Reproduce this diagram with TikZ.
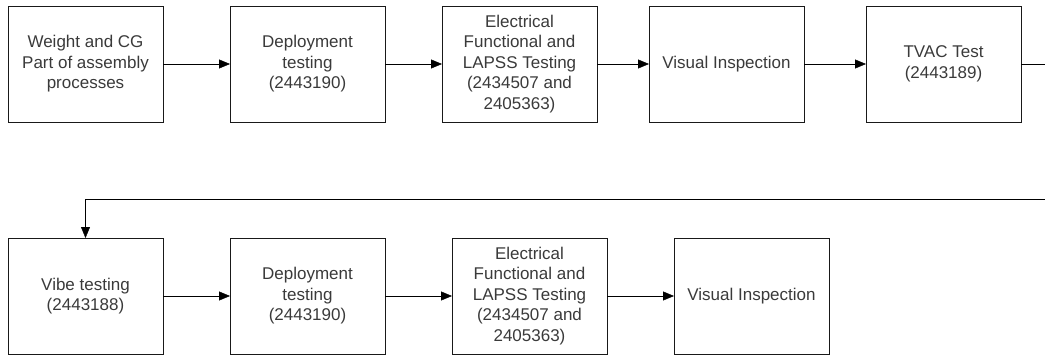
\documentclass[tikz,border=0pt]{standalone}
\usepackage{fontspec}
\setmainfont{Liberation Sans}
\usetikzlibrary{positioning,arrows.meta}
\definecolor{txtgray}{HTML}{3A3A3A}
\tikzset{
->,
>={Triangle[length=11pt,width=9pt]},
line width=1pt,
node distance=67pt,
task/.style={draw=black!90, rectangle, minimum width=155pt, minimum height=116pt,
  inner sep=2pt, outer sep=0pt, align=center, text=txtgray,
  font=\fontsize{17}{20.5}\selectfont},
}

\begin{document}
\begin{tikzpicture}[x=1pt,y=1pt]
        \useasboundingbox (0,0) rectangle (1045,354);
        \node[task] (t1) at (85.5,290) {Weight and CG\\Part of assembly\\processes};
        \node[task,right=of t1] (t2) {Deployment\\testing\\(2443190)};
        \node[task,right=57pt of t2] (t3) {Electrical\\Functional and\\LAPSS Testing\\(2434507 and\\2405363)};
        \node[task,right=52pt of t3] (t4) {Visual Inspection};
        \node[task,right=62pt of t4] (t5) {TVAC Test\\(2443189)};

        \node[task,below=116pt of t1] (b1) {Vibe testing\\(2443188)};
        \node[task,right=of b1] (b2) {Deployment\\testing\\(2443190)};
        \node[task,right=of b2] (b3) {Electrical\\Functional and\\LAPSS Testing\\(2434507 and\\2405363)};
        \node[task,right=of b3] (b4) {Visual Inspection};
        \coordinate (turn) at (1050,155);

        \draw (t1) edge (t2);
        \draw (t2) edge (t3);
        \draw (t3) edge (t4);
        \draw (t4) edge (t5);
        \draw (t5.east) -| (turn) -| (b1.north);
        \draw (b1) edge (b2);
        \draw (b2) edge (b3);
        \draw (b3) edge (b4);
    \end{tikzpicture}
\end{document}
